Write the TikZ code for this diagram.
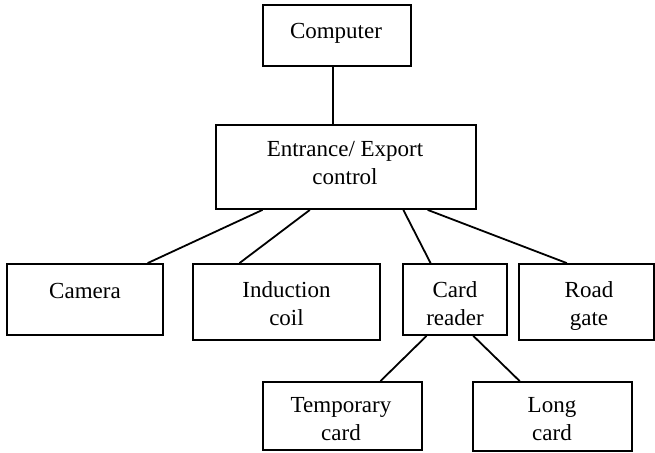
\documentclass[tikz,border=0pt]{standalone}
\usepackage{fontspec}
\setmainfont{Liberation Serif}
\usetikzlibrary{calc}
\begin{document}
\begin{tikzpicture}[x=1pt,y=-1pt,
  box/.style={draw, line width=1.8pt, inner sep=0pt},
  txt/.style={inner sep=0pt, align=center, anchor=north, font=\fontsize{23}{28}\selectfont},
  conn/.style={line width=1.8pt}]
\useasboundingbox (0,0) rectangle (655,452);
% boxes
\node[box, minimum width=148pt, minimum height=61pt] (comp) at (337,35.5) {};
\node[box, minimum width=260pt, minimum height=84pt] (ent) at (346,167) {};
\node[box, minimum width=156pt, minimum height=71pt] (cam) at (85,299.5) {};
\node[box, minimum width=187pt, minimum height=76pt] (ind) at (286.5,302) {};
\node[box, minimum width=104pt, minimum height=71pt] (card) at (455,299.5) {};
\node[box, minimum width=135pt, minimum height=76pt] (road) at (586.5,302) {};
\node[box, minimum width=159pt, minimum height=68pt] (temp) at (342.5,416) {};
\node[box, minimum width=159pt, minimum height=69pt] (long) at (552.5,416.5) {};
% texts
\node[txt] (compT) at (336,22.6) {Computer};
\node[txt] (entT) at (345,141.6) {Entrance/ Export\\control};
\node[txt] (camT) at (85,282.6) {Camera};
\node[txt] (indT) at (286.5,281.6) {Induction\\coil};
\node[txt] (cardT) at (455,281.6) {Card\\reader};
\node[txt] (roadT) at (589,281.6) {Road\\gate};
\node[txt] (tempT) at (341,397.6) {Temporary\\card};
\node[txt] (longT) at (552,397.6) {Long\\card};
% connectors
\coordinate (c1) at ($(comp.south west)!0.475!(comp.south east)$);
\draw[conn] (c1) -- (c1 |- ent.north);
\draw[conn] ($(ent.south west)!0.181!(ent.south east)$) -- ($(cam.north west)!0.897!(cam.north east)$);
\draw[conn] ($(ent.south west)!0.362!(ent.south east)$) -- ($(ind.north west)!0.251!(ind.north east)$);
\draw[conn] ($(ent.south west)!0.719!(ent.south east)$) -- ($(card.north west)!0.269!(card.north east)$);
\draw[conn] ($(ent.south west)!0.812!(ent.south east)$) -- ($(road.north west)!0.356!(road.north east)$);
\draw[conn] ($(card.south west)!0.231!(card.south east)$) -- ($(temp.north west)!0.736!(temp.north east)$);
\draw[conn] ($(card.south west)!0.673!(card.south east)$) -- ($(long.north west)!0.296!(long.north east)$);
\end{tikzpicture}
\end{document}
